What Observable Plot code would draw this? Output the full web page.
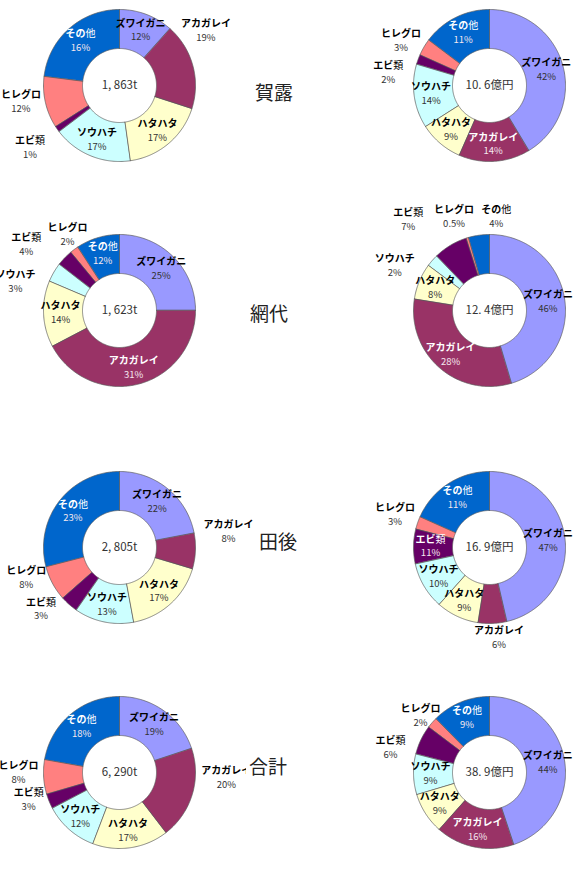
<!DOCTYPE html>
<html><head><meta charset="utf-8">
<script src="https://cdn.jsdelivr.net/npm/d3@7"></script>
<script src="https://cdn.jsdelivr.net/npm/@observablehq/plot@0.6"></script>
<style>
body{margin:0;background:#fff;}
#wrap{position:relative;width:585px;height:875px;overflow:hidden;background:#fff;}
.cell{position:absolute;width:300px;height:240px;}
.cell svg{max-width:none !important;}
.row{position:absolute;font-family:"Noto Sans CJK JP";font-size:19px;color:#222;transform:translate(-50%,-50%);white-space:nowrap;background:#fff;padding:0 3px;line-height:1.2;}
</style></head><body><div id="wrap"></div>
<script>
// ---- data ----
const species = ["ズワイガニ","アカガレイ","ハタハタ","ソウハチ","エビ類","ヒレグロ","その他"];
const regions = ["賀露","網代","田後","合計"];
const totalsWeight = ["1, 863t","1, 623t","2, 805t","6, 290t"];
const totalsValue = ["10. 6億円","12. 4億円","16. 9億円","38. 9億円"];
// slice shares as drawn (%)
const sharesWeight = [
  [11.6,18.4,17.8,16.9,1.3,11.0,23.0],
  [25.0,42.3,14.1,4.1,3.5,1.8,9.2],
  [22.0,7.6,17.5,12.6,3.8,7.5,29.0],
  [19.9,19.7,16.2,11.5,3.2,7.3,22.2]
];
const sharesValue = [
  [41.4,15.2,9.4,13.6,2.1,3.6,14.7],
  [45.4,32.1,7.7,2.6,7.3,0.5,4.4],
  [46.4,6.1,9.1,10.0,7.4,2.7,18.3],
  [44.9,16.7,8.8,8.6,6.3,2.3,12.4]
];
// percent labels as printed
const labelsWeight = [
  ["12%","19%","17%","17%","1%","12%","16%"],
  ["25%","31%","14%","3%","4%","2%","12%"],
  ["22%","8%","17%","13%","3%","8%","23%"],
  ["19%","20%","17%","12%","3%","8%","18%"]
];
const labelsValue = [
  ["42%","14%","9%","14%","2%","3%","11%"],
  ["46%","28%","8%","2%","7%","0.5%","4%"],
  ["47%","6%","9%","10%","11%","3%","11%"],
  ["44%","16%","9%","9%","6%","2%","9%"]
];

// ---- layout / style ----
const colors = ["#9999ff","#993366","#ffffcc","#ccffff","#660066","#ff8080","#0066cc"];
const dark = new Set(["アカガレイ","エビ類","その他"]);
const colX = [119, 489];
const rowY = [85, 310, 547, 772];
const rowLabelPos = [[274,92],[269,313],[278,541],[268,766]];
const R_OUT = 76, R_IN = 37, R_LAB = 59;
// outside labels: [species index, angle nudge (deg), radius (px)]
const outsideW = [
  [[1,-17,102],[4,0,109],[5,3,100]],
  [[3,-15,108],[4,-9,114],[5,2,92]],
  [[1,-11,110],[4,10,100],[5,10,98]],
  [[1,-14,107],[4,5,95],[5,3,101]]
];
const outsideV = [
  [[4,-13,102],[5,-4,99]],
  [[3,-16,105],[4,-11,122],[5,-4,100],[6,12,94]],
  [[1,-4,91],[5,0,100]],
  [[4,-12,102],[5,-2,89]]
];
const FONT = "'Noto Sans CJK JP', 'Noto Sans', sans-serif";
const W = 300, H = 240;

function donut(shares, pcts, total, outside) {
  const rows = species.map((s, i) => ({species: s, share: shares[i], pct: pcts[i]}));
  const arcs = d3.pie().sort(null).value(d => d.share)(rows);
  const pts = [];
  for (const a of arcs) {
    const n = Math.max(2, Math.ceil((a.endAngle - a.startAngle) / 0.015));
    for (let k = 0; k <= n; k++) {
      const t = a.startAngle + (a.endAngle - a.startAngle) * k / n;
      pts.push({species: a.data.species, x: R_OUT * Math.sin(t), y: R_OUT * Math.cos(t)});
    }
    for (let k = n; k >= 0; k--) {
      const t = a.startAngle + (a.endAngle - a.startAngle) * k / n;
      pts.push({species: a.data.species, x: R_IN * Math.sin(t), y: R_IN * Math.cos(t)});
    }
  }
  const outMap = new Map(outside.map(([i, n, r]) => [i, [n, r]]));
  const labs = arcs.map((a, i) => {
    const o = outMap.get(i);
    const mid = (a.startAngle + a.endAngle) / 2 + (o ? o[0] * Math.PI / 180 : 0);
    const r = o ? o[1] : R_LAB;
    const white = !o && dark.has(a.data.species);
    return {species: a.data.species, pct: a.data.pct, x: r * Math.sin(mid), y: r * Math.cos(mid), white};
  });
  const blackL = labs.filter(d => !d.white), whiteL = labs.filter(d => d.white);
  const svg = Plot.plot({
    width: W, height: H, margin: 0,
    x: {domain: [-W / 2, W / 2], axis: null},
    y: {domain: [-H / 2, H / 2], axis: null},
    color: {domain: species, range: colors},
    style: {overflow: "visible", background: "transparent", fontFamily: FONT, maxWidth: "none"},
    marks: [
      Plot.line(pts, {x: "x", y: "y", z: "species", fill: "species", stroke: "#5a5a5a", strokeWidth: 0.7, curve: "linear-closed"}),
      Plot.text(blackL, {x: "x", y: "y", text: "species", dy: -7, fill: "#000", fontWeight: "bold", fontSize: 10, fontFamily: FONT}),
      Plot.text(blackL, {x: "x", y: "y", text: "pct", dy: 7, fill: "#333", fontSize: 9.5, fontFamily: FONT}),
      Plot.text(whiteL, {x: "x", y: "y", text: "species", dy: -7, fill: "#fff", fontWeight: "bold", fontSize: 10, fontFamily: FONT}),
      Plot.text(whiteL, {x: "x", y: "y", text: "pct", dy: 7, fill: "#f4e6ee", fontSize: 9.5, fontFamily: FONT}),
      Plot.text([total], {text: d => d, frameAnchor: "middle", fill: "#333", fontSize: 11.5, fontFamily: FONT})
    ]
  });
  svg.style.maxWidth = "none";
  svg.setAttribute("width", W);
  svg.setAttribute("height", H);
  // kanji in the names drawn in regular weight, as in the reference
  d3.select(svg).selectAll("text").each(function () {
    const t = this.textContent;
    if (t === "エビ類" || t === "その他") {
      this.textContent = "";
      for (const c of [...t]) {
        const ts = document.createElementNS("http://www.w3.org/2000/svg", "tspan");
        ts.textContent = c;
        if (/[\u4e00-\u9fff]/.test(c)) ts.setAttribute("font-weight", "normal");
        this.appendChild(ts);
      }
    }
  });
  return svg;
}

const wrap = document.getElementById("wrap");
regions.forEach((reg, r) => {
  const specs = [
    [sharesWeight[r], labelsWeight[r], totalsWeight[r], outsideW[r], colX[0]],
    [sharesValue[r], labelsValue[r], totalsValue[r], outsideV[r], colX[1]]
  ];
  for (const [sh, lb, tot, out, cx] of specs) {
    const cell = document.createElement("div");
    cell.className = "cell";
    cell.style.left = (cx - W / 2) + "px";
    cell.style.top = (rowY[r] - H / 2) + "px";
    cell.appendChild(donut(sh, lb, tot, out));
    wrap.appendChild(cell);
  }
});
regions.forEach((reg, r) => {
  const lab = document.createElement("div");
  lab.className = "row";
  lab.textContent = reg;
  lab.style.left = rowLabelPos[r][0] + "px";
  lab.style.top = rowLabelPos[r][1] + "px";
  wrap.appendChild(lab);
});
</script>
</body></html>
